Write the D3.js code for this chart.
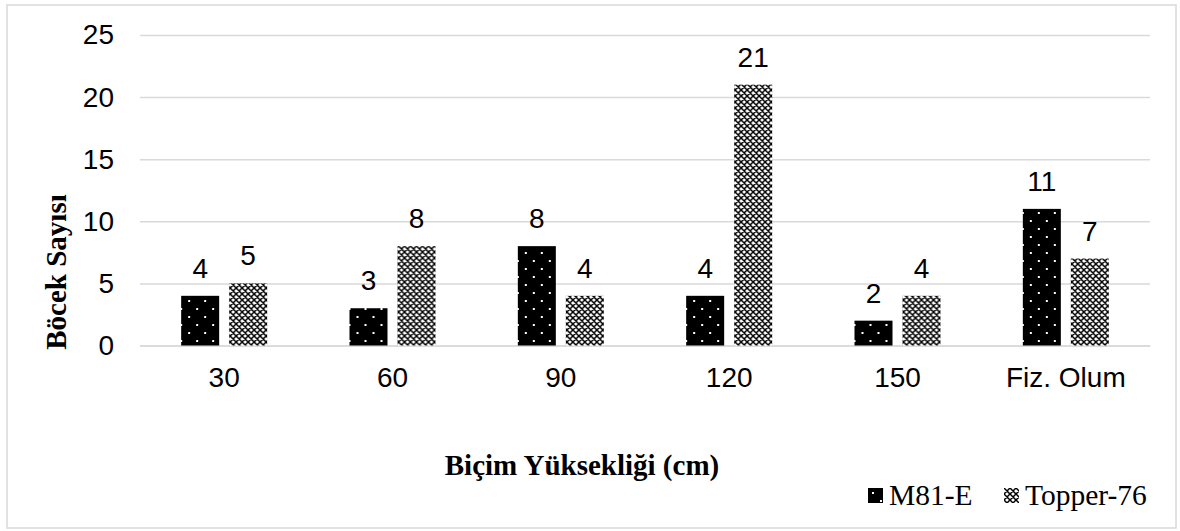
<!DOCTYPE html>
<html><head><meta charset="utf-8">
<script src="https://cdn.jsdelivr.net/npm/d3@7"></script>
<style>body{margin:0;background:#fff}svg{display:block}</style>
</head><body>
<svg id="c" width="1180" height="531"></svg>
<script>
const categories = ["30","60","90","120","150","Fiz. Olum"];
const seriesNames = ["M81-E","Topper-76"];
const m81Values = [4,3,8,4,2,11];
const topperValues = [5,8,4,21,4,7];
const yTicks = [0,5,10,15,20,25];
const yTitle = "Böcek Sayısı";
const xTitle = "Biçim Yüksekliği (cm)";

(function(){
const svg = d3.select("#c");
const defs = svg.append("defs");
// M81 dotted pattern
const p1 = defs.append("pattern").attr("id","pM81").attr("patternUnits","userSpaceOnUse")
  .attr("width",16).attr("height",16);
p1.append("rect").attr("width",16).attr("height",16).attr("fill","#000");
p1.append("rect").attr("x",4).attr("y",4).attr("width",2).attr("height",2).attr("fill","#fff");
p1.append("rect").attr("x",12).attr("y",12).attr("width",2).attr("height",2).attr("fill","#fff");
// Topper lattice pattern
const p2 = defs.append("pattern").attr("id","pTop").attr("patternUnits","userSpaceOnUse")
  .attr("width",6).attr("height",6);
p2.append("rect").attr("width",6).attr("height",6).attr("fill","#fff");
p2.append("path").attr("d","M0,0L6,6M6,0L0,6M-1,5L1,7M5,-1L7,1M-1,1L1,-1M5,7L7,5")
  .attr("stroke","#000").attr("stroke-width",1.5);

const fills = {"M81-E":"url(#pM81)","Topper-76":"url(#pTop)"};

// frame
svg.append("rect").attr("x",7).attr("y",5).attr("width",1169).attr("height",523)
  .attr("fill","none").attr("stroke","#d9d9d9").attr("stroke-width",1.5);

const pl=140,pr=1150,pt=35,pb=345.5;
const x0 = d3.scaleBand().domain(categories).range([pl,pr]).padding(0);
const x1 = d3.scaleBand().domain(seriesNames).range([-43,43]).paddingInner(10/48).paddingOuter(0);
const y = d3.scaleLinear().domain([0,25]).range([pb,pt]);

const sans = "Liberation Sans, Arial, sans-serif";
const serif = "Liberation Serif, Times New Roman, serif";

// gridlines
const yAxis = d3.axisLeft(y).tickValues(yTicks).tickSize(-(pr-pl)).tickPadding(26);
const gy = svg.append("g").attr("transform",`translate(${pl},0)`).call(yAxis);
gy.select(".domain").remove();
gy.selectAll(".tick line").attr("stroke","#d9d9d9").attr("stroke-width",1.5);
gy.selectAll(".tick text").attr("font-family",sans).attr("font-size",28).attr("fill","#000");

// x axis
const xAxis = d3.axisBottom(x0).tickSize(0).tickPadding(22);
const gx = svg.append("g").attr("transform",`translate(0,${pb})`).call(xAxis);
gx.select(".domain").attr("stroke","#d9d9d9").attr("stroke-width",1.5);
gx.selectAll(".tick text").attr("font-family",sans).attr("font-size",28).attr("fill","#000");

const data = categories.map((c,i)=>({cat:c, vals:[{s:"M81-E",v:m81Values[i]},{s:"Topper-76",v:topperValues[i]}]}));
const groups = svg.append("g").selectAll("g").data(data).join("g")
  .attr("transform",d=>`translate(${x0(d.cat)+x0.bandwidth()/2},0)`);
groups.selectAll("rect").data(d=>d.vals).join("rect")
  .attr("x",d=>x1(d.s)).attr("width",x1.bandwidth())
  .attr("y",d=>y(d.v)).attr("height",d=>y(0)-y(d.v))
  .attr("fill",d=>fills[d.s]);
groups.selectAll("text").data(d=>d.vals).join("text")
  .attr("x",d=>x1(d.s)+x1.bandwidth()/2).attr("y",d=>y(d.v)-18)
  .attr("text-anchor","middle").attr("font-family",sans)
  .attr("font-size",28).attr("fill","#000").text(d=>d.v);

// titles
svg.append("text").attr("transform","translate(66,272) rotate(-90)").attr("text-anchor","middle")
  .attr("font-family",serif).attr("font-weight","bold")
  .attr("font-size",29).text(yTitle);
svg.append("text").attr("x",582).attr("y",475).attr("text-anchor","middle")
  .attr("font-family",serif).attr("font-weight","bold")
  .attr("font-size",29).text(xTitle);

// legend
const legX = [868,1004];
const lg = svg.append("g").selectAll("g").data(seriesNames).join("g")
  .attr("transform",(d,i)=>`translate(${legX[i]},488)`);
lg.append("rect").attr("width",15).attr("height",15).attr("fill",d=>fills[d]);
lg.append("text").attr("x",21).attr("y",17).attr("font-family",serif)
  .attr("font-size",29.5).attr("fill","#000").text(d=>d);
})();
</script>
</body></html>
